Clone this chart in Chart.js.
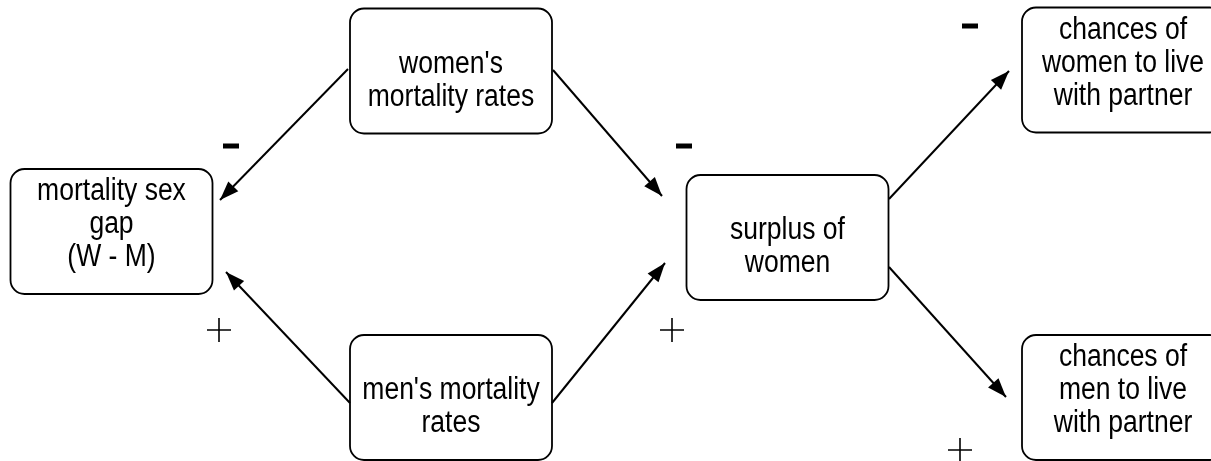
<!DOCTYPE html>
<html lang="en">
<head>
    <meta charset="UTF-8">
    <title>Mortality sex gap diagram</title>
    <script src="https://cdn.jsdelivr.net/npm/chart.js"></script>
    <style>
        html, body { margin: 0; padding: 0; background: #fff; }
        #wrap { width: 1211px; height: 461px; position: relative; }
    </style>
</head>
<body>
    <div id="wrap"><canvas id="diagram"></canvas></div>

    <script>
        // nodes (box centres, in diagram units)
        const nodeLabels = [
            ['mortality sex', 'gap', '(W - M)'],
            ["women's", 'mortality rates'],
            ["men's mortality", 'rates'],
            ['surplus of', 'women'],
            ['chances of', 'women to live', 'with partner'],
            ['chances of', 'men to live', 'with partner']
        ];
        const nodeX = [111.5, 451, 451, 787.5, 1123, 1123];
        const nodeY = [231.5, 71, 397.5, 237.5, 70, 397.5];

        // arrows: start -> end (end gets the head)
        const edgeFromX = [348, 553, 350, 552, 889, 889];
        const edgeFromY = [69, 70, 403, 403, 199, 267];
        const edgeToX = [220, 662, 226, 665, 1009, 1006];
        const edgeToY = [200, 196, 272, 263, 71, 397];

        // signs
        const minusX = [231, 684, 970];
        const minusY = [146, 146, 26];
        const plusX = [219, 672, 960];
        const plusY = [330, 330, 450];

        const BOX_W = 202, BOX_H = 125, BOX_R = 14;

        const datasets = edgeFromX.map((x0, i) => ({
            data: [{ x: x0, y: edgeFromY[i] }, { x: edgeToX[i], y: edgeToY[i] }],
            showLine: true,
            borderColor: '#000',
            borderWidth: 2,
            pointRadius: 0,
            arrow: true
        }));
        datasets.push({
            data: minusX.map((x, i) => ({ x: x, y: minusY[i] })),
            pointStyle: 'line',
            pointRadius: 8,
            pointBorderWidth: 5,
            pointBorderColor: '#000',
            showLine: false
        });
        datasets.push({
            data: plusX.map((x, i) => ({ x: x, y: plusY[i] })),
            pointStyle: 'cross',
            pointRadius: 12,
            pointBorderWidth: 1.6,
            pointBorderColor: '#000',
            showLine: false
        });

        const boxPlugin = {
            id: 'boxes',
            beforeDatasetsDraw(chart) {
                const ctx = chart.ctx;
                const xs = chart.scales.x, ys = chart.scales.y;
                ctx.save();
                nodeLabels.forEach((lines, i) => {
                    const cx = xs.getPixelForValue(nodeX[i]);
                    const cy = ys.getPixelForValue(nodeY[i]);
                    const left = cx - BOX_W / 2, top = cy - BOX_H / 2;
                    ctx.beginPath();
                    ctx.roundRect(left, top, BOX_W, BOX_H, BOX_R);
                    ctx.fillStyle = '#fff';
                    ctx.fill();
                    ctx.lineWidth = 1.8;
                    ctx.strokeStyle = '#000';
                    ctx.stroke();

                    // text sits in three slots, shorter labels take the lower ones
                    ctx.fillStyle = '#000';
                    ctx.font = '31px "Liberation Sans", Arial, sans-serif';
                    ctx.textAlign = 'center';
                    ctx.textBaseline = 'alphabetic';
                    lines.forEach((t, k) => {
                        const by = top + 31 + (3 - lines.length) * 33 + k * 33;
                        ctx.save();
                        ctx.translate(cx, by);
                        ctx.scale(0.855, 1);
                        ctx.fillText(t, 0, 0);
                        ctx.restore();
                    });
                });
                ctx.restore();
            }
        };

        const arrowPlugin = {
            id: 'arrowHeads',
            afterDatasetsDraw(chart) {
                const ctx = chart.ctx;
                ctx.save();
                ctx.fillStyle = '#000';
                chart.data.datasets.forEach((ds, i) => {
                    if (!ds.arrow) return;
                    const pts = chart.getDatasetMeta(i).data;
                    const a = pts[0], b = pts[pts.length - 1];
                    const ang = Math.atan2(b.y - a.y, b.x - a.x);
                    const len = 19, half = 7;
                    ctx.beginPath();
                    ctx.moveTo(b.x, b.y);
                    ctx.lineTo(b.x - len * Math.cos(ang) + half * Math.sin(ang),
                               b.y - len * Math.sin(ang) - half * Math.cos(ang));
                    ctx.lineTo(b.x - len * Math.cos(ang) - half * Math.sin(ang),
                               b.y - len * Math.sin(ang) + half * Math.cos(ang));
                    ctx.closePath();
                    ctx.fill();
                });
                ctx.restore();
            }
        };

        new Chart(document.getElementById('diagram'), {
            type: 'scatter',
            data: { datasets: datasets },
            options: {
                responsive: true,
                maintainAspectRatio: false,
                animation: false,
                events: [],
                layout: { padding: 0, autoPadding: false },
                plugins: { legend: { display: false }, tooltip: { enabled: false } },
                scales: {
                    x: { type: 'linear', min: 0, max: 1211, display: false },
                    y: { type: 'linear', min: 0, max: 461, reverse: true, display: false }
                }
            },
            plugins: [boxPlugin, arrowPlugin]
        });
    </script>
</body>
</html>
